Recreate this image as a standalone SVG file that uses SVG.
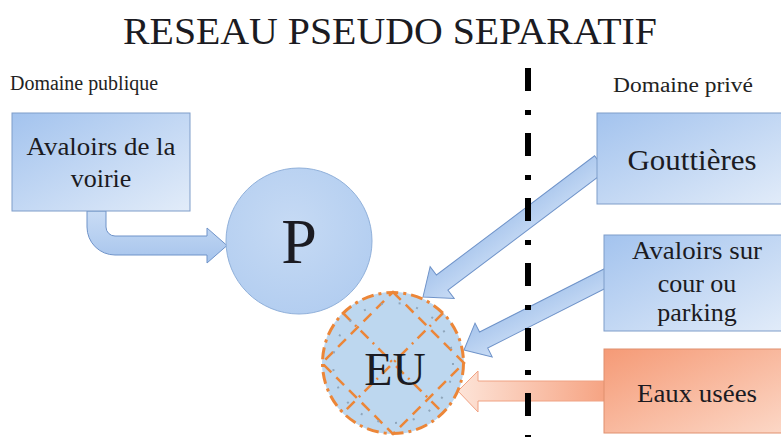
<svg xmlns="http://www.w3.org/2000/svg" width="781" height="437" viewBox="0 0 781 437">
  <defs>
    <linearGradient id="gBox" x1="0" y1="0" x2="1" y2="1">
      <stop offset="0" stop-color="#a3c3ee"/>
      <stop offset="1" stop-color="#e2ecf9"/>
    </linearGradient>
    <linearGradient id="gOrange" x1="0" y1="0" x2="1" y2="1">
      <stop offset="0" stop-color="#f59a76"/>
      <stop offset="1" stop-color="#fcd8c7"/>
    </linearGradient>
    <linearGradient id="gArrow" x1="0" y1="0" x2="0" y2="1">
      <stop offset="0" stop-color="#c9dcf5"/>
      <stop offset="1" stop-color="#a6c4ec"/>
    </linearGradient>
    <linearGradient id="gArrowO" x1="0" y1="0" x2="1" y2="0">
      <stop offset="0" stop-color="#fde4d8"/>
      <stop offset="1" stop-color="#f6a382"/>
    </linearGradient>
    <radialGradient id="gP" cx="0.45" cy="0.4" r="0.65">
      <stop offset="0" stop-color="#c6daf4"/>
      <stop offset="1" stop-color="#b2cdf0"/>
    </radialGradient>
  </defs>
  <style>
    .box { fill: url(#gBox); stroke: #7f9dc9; stroke-width: 1; }
    .boxO { fill: url(#gOrange); stroke: #e0906f; stroke-width: 1; }
    .arrow { fill: url(#gArrow); stroke: #6f93c9; stroke-width: 1; }
    .arrowO { fill: url(#gArrowO); stroke: #f0a283; stroke-width: 1; }
    text { font-family: "Liberation Serif", "Times New Roman", serif; }
    .t { fill: #1b1b22; text-anchor: middle; }
    .lab { fill: #222; font-size: 20px; }
    .eu { fill: none; stroke: #ec8638; }
  </style>

  <g id="title">
    <text class="t" x="390" y="44" font-size="38" textLength="534" lengthAdjust="spacingAndGlyphs">RESEAU PSEUDO SEPARATIF</text>
  </g>
  <g id="labels">
    <text class="lab" x="10" y="90" textLength="148" lengthAdjust="spacingAndGlyphs">Domaine publique</text>
    <text class="lab" x="613" y="92" textLength="140" lengthAdjust="spacingAndGlyphs">Domaine privé</text>
  </g>

  <g id="connectors">
    <path class="arrow" d="M87,211 L87,227 A28,28 0 0 0 115,255 L207,255 L207,263 L227,245.5 L207,228 L207,236 L115,236 A9,9 0 0 1 106,227 L106,211 Z"/>
    <g transform="translate(423,297) rotate(143)">
      <path class="arrow" d="M0,0 L-24,-20 L-24,-9.5 L-222,-9.5 L-222,9.5 L-24,9.5 L-24,20 Z"/>
    </g>
    <g transform="translate(464,350) rotate(153.1)">
      <path class="arrow" d="M0,0 L-22,-19 L-22,-9 L-162,-9 L-162,9 L-22,9 L-22,19 Z"/>
    </g>
    <path class="arrowO" d="M458,391 L478,371 L478,381 L606,381 L606,401 L478,401 L478,412 Z"/>
  </g>

  <g id="avaloirs-voirie">
    <rect class="box" x="12" y="113" width="178" height="98"/>
    <text class="t" x="101" y="155" font-size="26" textLength="149" lengthAdjust="spacingAndGlyphs">Avaloirs de la</text>
    <text class="t" x="101" y="187" font-size="26">voirie</text>
  </g>

  <g id="P">
    <circle cx="299" cy="241" r="73" fill="url(#gP)" stroke="#90b0da" stroke-width="1"/>
    <text class="t" x="299" y="263" font-size="64">P</text>
  </g>

  <g id="EU">
    <circle cx="393" cy="363" r="71" fill="#bdd7ef"/>
    <path class="eu" stroke-width="2.5" stroke-dasharray="11 7" d="M393,292 L464,363 L393,434 L322,363 Z"/>
    <path class="eu" stroke-width="2.5" stroke-dasharray="11 6 2 6" d="M343,313 L443,413 M443,313 L343,413"/>
    <circle cx="393" cy="363" r="60" fill="none" stroke="#8fa6bb" stroke-width="2" stroke-dasharray="2 16"/>
    <circle class="eu" cx="393" cy="363" r="70.5" stroke-width="3" stroke-dasharray="12 5 3 5"/>
    <text class="t" x="395" y="385" font-size="46">EU</text>
  </g>

  <g id="gouttieres">
    <rect class="box" x="597" y="113" width="190" height="91"/>
    <text class="t" x="692" y="170" font-size="30" textLength="129" lengthAdjust="spacingAndGlyphs">Gouttières</text>
  </g>

  <g id="avaloirs-cour">
    <rect class="box" x="604" y="235" width="183" height="96"/>
    <text class="t" x="697" y="259" font-size="26" textLength="130" lengthAdjust="spacingAndGlyphs">Avaloirs sur</text>
    <text class="t" x="697" y="292" font-size="26">cour ou</text>
    <text class="t" x="697" y="321" font-size="26">parking</text>
  </g>

  <g id="eaux-usees">
    <rect class="boxO" x="604" y="349" width="183" height="84"/>
    <text class="t" x="697" y="402" font-size="26" textLength="120" lengthAdjust="spacingAndGlyphs">Eaux usées</text>
  </g>

  <g id="limite">
    <line x1="528" y1="68" x2="528" y2="437" stroke="#000" stroke-width="6" stroke-dasharray="23 19 5 18"/>
  </g>
</svg>
